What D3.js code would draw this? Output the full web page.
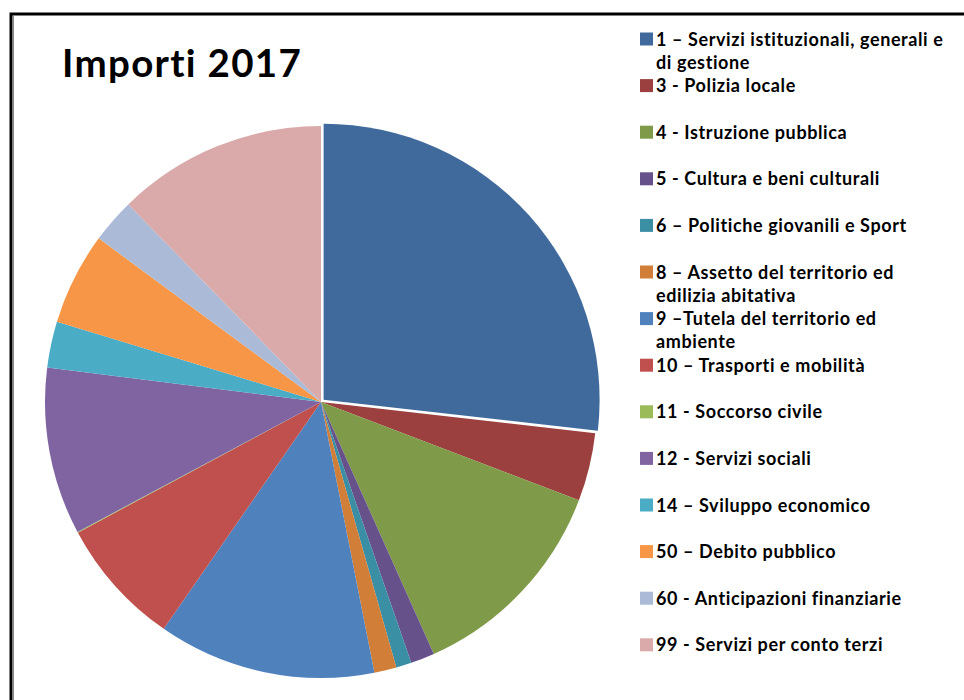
<!DOCTYPE html>
<html>
<head>
<meta charset="utf-8">
<script src="https://d3js.org/d3.v7.min.js"></script>
<style>
  html, body { margin: 0; padding: 0; background: #fff; }
  svg { display: block; }
  text { font-variant-ligatures: none; }
</style>
</head>
<body>
<div id="chart"></div>
<script>
// Missioni di spesa - quote (percentuali stimate)
const categories = [
    "1 – Servizi istituzionali, generali e\ndi gestione",
    "3 - Polizia locale",
    "4 - Istruzione pubblica",
    "5 - Cultura e beni culturali",
    "6 – Politiche giovanili e Sport",
    "8 – Assetto del territorio ed\nedilizia abitativa",
    "9 –Tutela del territorio ed\nambiente",
    "10 – Trasporti e mobilità",
    "11  - Soccorso civile",
    "12 - Servizi sociali",
    "14 – Sviluppo economico",
    "50 – Debito pubblico",
    "60 - Anticipazioni finanziarie",
    "99 - Servizi per conto terzi"
];
const importi = [26.8, 4.0, 12.5, 1.4, 0.9, 1.3, 12.75, 7.5, 0.05, 9.8, 2.7, 5.4, 2.6, 12.3];
const colori = [
    "#406a9c", "#9b403e", "#7f9a49", "#67518a", "#3a8fa5", "#d07e38", "#4f81bd",
    "#c0504d", "#9bbb59", "#8064a2", "#4bacc6", "#f79646", "#aabad7", "#d9aaa9"
];
const titolo = "Importi 2017";

const W = 964, H = 700;
const cx = 321, cy = 402, radius = 276;
const explode = 3.5; // prima fetta leggermente staccata

const data = categories.map((c, i) => ({ name: c, value: importi[i], color: colori[i] }));

const svg = d3.select("#chart")
    .append("svg")
    .attr("width", W)
    .attr("height", H);

// cornice del grafico
svg.append("rect")
    .attr("x", 11).attr("y", 14)
    .attr("width", W + 20).attr("height", H + 20)
    .attr("fill", "#fff")
    .attr("stroke", "#000")
    .attr("stroke-width", 3);
svg.append("line")
    .attr("x1", 13.5).attr("x2", 13.5)
    .attr("y1", 16).attr("y2", H)
    .attr("stroke", "#888")
    .attr("stroke-width", 1);

// titolo
svg.append("text")
    .attr("x", 62)
    .attr("y", 77)
    .text(titolo)
    .style("font-family", "Lato, 'Open Sans', sans-serif")
    .style("font-weight", "bold")
    .style("font-size", "38.5px")
    .style("letter-spacing", "1.3px")
    .attr("fill", "#000");

// torta
const pie = d3.pie().sort(null).value(d => d.value);
const arc = d3.arc().innerRadius(0).outerRadius(radius);

const g = svg.append("g")
    .attr("transform", `translate(${cx},${cy})`);

g.selectAll("path")
    .data(pie(data))
    .enter()
    .append("path")
    .attr("d", arc)
    .attr("fill", d => d.data.color)
    .attr("transform", (d, i) => {
        if (i !== 0) return null;
        const a = (d.startAngle + d.endAngle) / 2;
        return `translate(${Math.sin(a) * explode},${-Math.cos(a) * explode})`;
    });

// legenda
const legendX = 640, legendTop = 39, legendStep = 46.6, lineH = 23;

const legend = svg.append("g")
    .style("font-family", "Lato, 'Open Sans', sans-serif")
    .style("font-weight", "bold")
    .style("font-size", "18px")
    .style("letter-spacing", "0.6px");

data.forEach((d, i) => {
    const y = legendTop + i * legendStep;
    legend.append("rect")
        .attr("x", legendX)
        .attr("y", y - 6.5)
        .attr("width", 13)
        .attr("height", 13)
        .attr("fill", d.color);

    legend.append("text")
        .attr("x", legendX + 16)
        .attr("y", y + 6.5)
        .attr("fill", "#000")
        .selectAll("tspan")
        .data(d.name.split("\n"))
        .enter()
        .append("tspan")
        .attr("x", legendX + 16)
        .attr("dy", (t, k) => k === 0 ? 0 : lineH)
        .text(t => t);
});
</script>
</body>
</html>
